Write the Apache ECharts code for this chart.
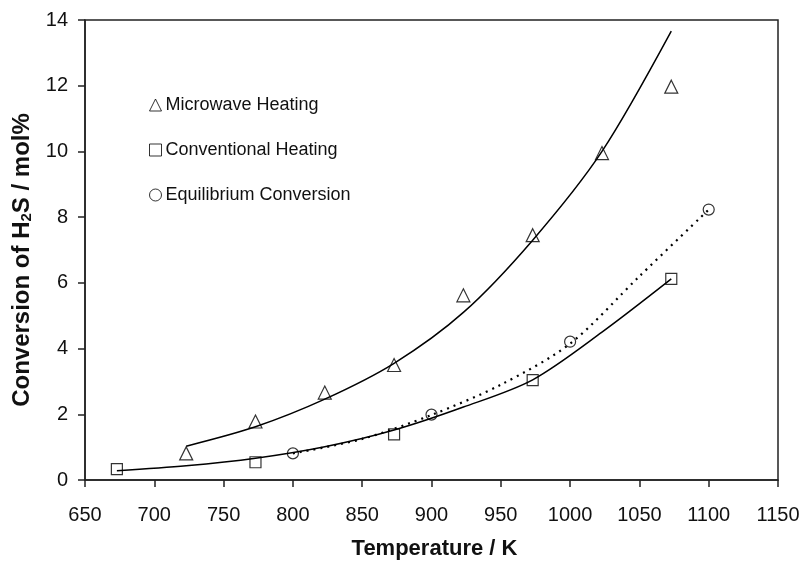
<!DOCTYPE html>
<html>
<head>
<meta charset="utf-8">
<script src="https://cdn.jsdelivr.net/npm/echarts@6/dist/echarts.min.js"></script>
<style>
  html, body { margin: 0; padding: 0; background: #fff; }
  #chart { width: 803px; height: 570px; }
</style>
</head>
<body>
<div id="chart"></div>
<script>
// measured points
var microwaveT = [723, 773, 823, 873, 923, 973, 1023, 1073];
var microwaveX = [0.81, 1.78, 2.66, 3.5, 5.62, 7.45, 9.95, 11.97];
var conventionalT = [673, 773, 873, 973, 1073];
var conventionalX = [0.33, 0.54, 1.39, 3.04, 6.12];
var equilibriumT = [800, 900, 1000, 1100];
var equilibriumX = [0.81, 1.99, 4.21, 8.23];

// trend lines
var microwaveFitT = [723, 773, 823, 873, 923, 973, 1023, 1073];
var microwaveFitX = [1.03, 1.62, 2.46, 3.55, 5.1, 7.3, 10.0, 13.66];
var conventionalFitT = [673, 723, 773, 823, 873, 923, 973, 1023, 1073];
var conventionalFitX = [0.28, 0.43, 0.66, 1.01, 1.52, 2.22, 3.05, 4.5, 6.12];
var equilibriumFitT = [800, 850, 900, 950, 1000, 1050, 1100];
var equilibriumFitX = [0.81, 1.25, 1.98, 2.9, 4.15, 6.2, 8.23];

function pairs(xs, ys) {
	return xs.map(function (x, i) { return [x, ys[i]]; });
}

var myChart = echarts.init(document.getElementById('chart'));

var fontFamily = 'Liberation Sans, Arial, sans-serif';
var markStyle = { color: '#fff', borderColor: '#000', borderWidth: 1.2 };

var option = {
	animation: false,
	textStyle: { fontFamily: fontFamily },
	grid: {
		left: 85,
		right: 25,
		top: 20,
		bottom: 90,
		show: true,
		borderColor: '#222',
		borderWidth: 1.5
	},
	legend: {
		left: 144,
		top: 91,
		orient: 'vertical',
		itemGap: 27,
		itemWidth: 12,
		itemHeight: 12,
		textStyle: { fontSize: 18, color: '#111', fontFamily: fontFamily, padding: [0, 0, 0, -1] },
		itemStyle: { borderWidth: 1 },
		data: [
			{ name: 'Microwave Heating', icon: 'triangle' },
			{ name: 'Conventional Heating', icon: 'rect' },
			{ name: 'Equilibrium Conversion', icon: 'circle' }
		]
	},
	xAxis: {
		type: 'value',
		min: 650,
		max: 1150,
		interval: 50,
		name: 'Temperature / K',
		nameLocation: 'middle',
		nameGap: 58,
		nameTextStyle: { fontSize: 22, fontWeight: 'bold', color: '#111', padding: [0, 0, 0, 6] },
		axisLine: { lineStyle: { color: '#222', width: 1.5 } },
		axisTick: { length: 7, lineStyle: { color: '#222', width: 1.5 } },
		axisLabel: {
			fontSize: 20,
			color: '#111',
			margin: 25,
			formatter: function (v) { return String(v); }
		},
		splitLine: { show: false }
	},
	yAxis: {
		type: 'value',
		min: 0,
		max: 14,
		interval: 2,
		name: '{b|Conversion of H}{s|2}{b|S / mol%}',
		nameLocation: 'middle',
		nameGap: 50,
		nameTextStyle: {
			padding: [0, 20, 0, 0],
			rich: {
				b: { fontSize: 24, fontWeight: 'bold', color: '#111', fontFamily: fontFamily },
				s: { fontSize: 15, fontWeight: 'bold', color: '#111', fontFamily: fontFamily, padding: [8, 0, 0, 0] }
			}
		},
		axisLine: { show: true, lineStyle: { color: '#222', width: 1.5 } },
		axisTick: { show: true, length: 7, lineStyle: { color: '#222', width: 1.5 } },
		axisLabel: { fontSize: 20, color: '#111', margin: 17 },
		splitLine: { show: false }
	},
	series: [
		{
			name: 'microwave fit',
			type: 'line',
			smooth: 0.3,
			showSymbol: false,
			silent: true,
			lineStyle: { color: '#000', width: 1.5 },
			data: pairs(microwaveFitT, microwaveFitX)
		},
		{
			name: 'conventional fit',
			type: 'line',
			smooth: 0.3,
			showSymbol: false,
			silent: true,
			lineStyle: { color: '#000', width: 1.5 },
			data: pairs(conventionalFitT, conventionalFitX)
		},
		{
			name: 'equilibrium fit',
			type: 'line',
			smooth: 0.3,
			showSymbol: false,
			silent: true,
			lineStyle: { color: '#000', width: 2.2, type: [2, 5] },
			data: pairs(equilibriumFitT, equilibriumFitX)
		},
		{
			name: 'Microwave Heating',
			type: 'scatter',
			symbol: 'triangle',
			symbolSize: 13,
			itemStyle: markStyle,
			data: pairs(microwaveT, microwaveX)
		},
		{
			name: 'Conventional Heating',
			type: 'scatter',
			symbol: 'rect',
			symbolSize: 11,
			itemStyle: markStyle,
			data: pairs(conventionalT, conventionalX)
		},
		{
			name: 'Equilibrium Conversion',
			type: 'scatter',
			symbol: 'circle',
			symbolSize: 11,
			itemStyle: markStyle,
			data: pairs(equilibriumT, equilibriumX)
		}
	]
};

myChart.setOption(option);
</script>
</body>
</html>
